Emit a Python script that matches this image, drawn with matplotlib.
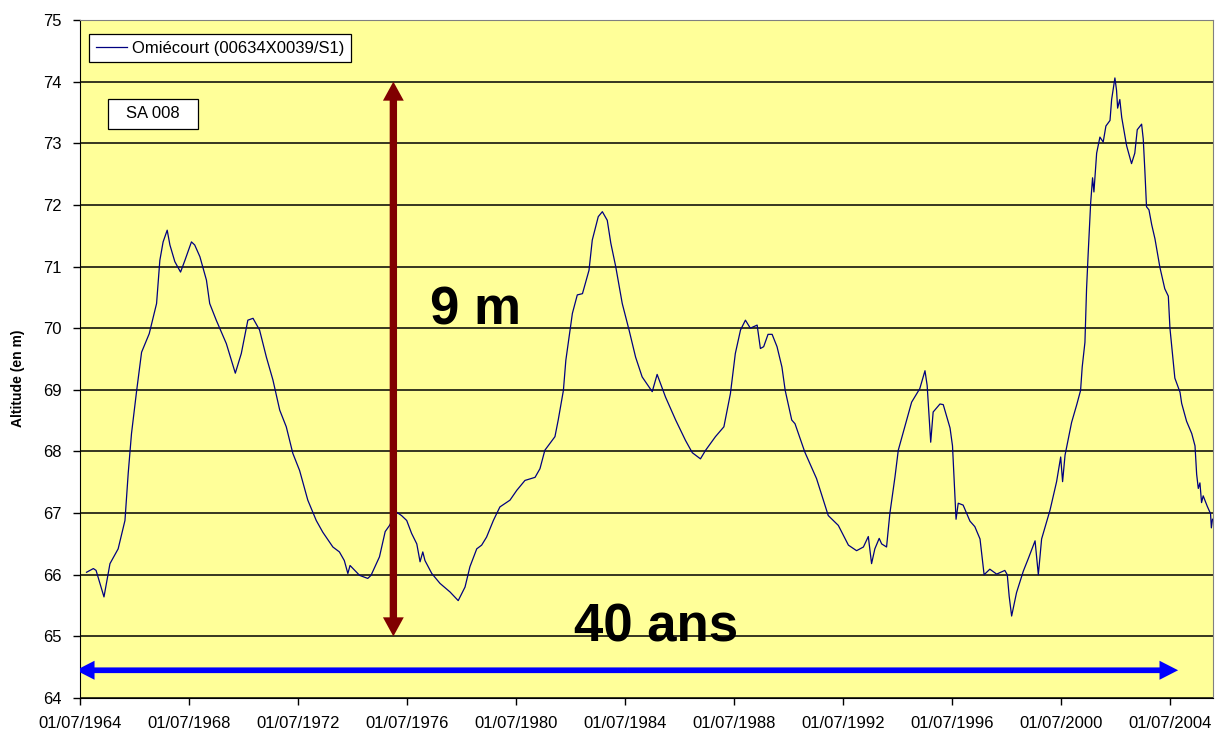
import matplotlib.pyplot as plt
from matplotlib.patches import FancyArrowPatch, Rectangle, ArrowStyle

plt.rcParams['font.family'] = ['Liberation Sans', 'DejaVu Sans']

# Piézomètre d'Omiécourt : dates en années décimales (01/07/1964 = 1964.5), niveau en m
annees = [
    1964.74, 1964.99, 1965.09, 1965.38, 1965.60, 1965.90, 1966.15, 1966.27, 1966.39, 1966.58,
    1966.76, 1967.04, 1967.31, 1967.43, 1967.55, 1967.70, 1967.80, 1967.98, 1968.19, 1968.35,
    1968.59, 1968.71, 1968.90, 1969.14, 1969.26, 1969.50, 1969.87, 1970.20, 1970.42, 1970.66,
    1970.85, 1971.09, 1971.34, 1971.58, 1971.83, 1972.07, 1972.31, 1972.56, 1972.86, 1973.17,
    1973.41, 1973.78, 1974.02, 1974.20, 1974.33, 1974.41, 1974.76, 1975.06, 1975.18, 1975.49,
    1975.70, 1975.86, 1976.10, 1976.30, 1976.49, 1976.67, 1976.86, 1976.98, 1977.08, 1977.16,
    1977.41, 1977.71, 1978.08, 1978.38, 1978.63, 1978.81, 1979.06, 1979.24, 1979.42, 1979.67,
    1979.91, 1980.28, 1980.53, 1980.83, 1981.20, 1981.38, 1981.56, 1981.93, 1982.05, 1982.24,
    1982.33, 1982.57, 1982.75, 1982.94, 1983.18, 1983.30, 1983.52, 1983.67, 1983.85, 1983.98,
    1984.16, 1984.40, 1984.65, 1984.89, 1985.13, 1985.50, 1985.68, 1985.99, 1986.36, 1986.72,
    1986.97, 1987.27, 1987.46, 1987.82, 1988.13, 1988.37, 1988.55, 1988.74, 1988.92, 1989.10,
    1989.35, 1989.47, 1989.59, 1989.75, 1989.90, 1990.08, 1990.26, 1990.38, 1990.62, 1990.74,
    1991.10, 1991.53, 1991.96, 1992.33, 1992.70, 1993.00, 1993.25, 1993.43, 1993.55, 1993.67,
    1993.83, 1993.92, 1994.10, 1994.22, 1994.41, 1994.53, 1994.77, 1995.02, 1995.32, 1995.51,
    1995.59, 1995.72, 1995.81, 1996.06, 1996.18, 1996.43, 1996.52, 1996.65, 1996.73, 1996.91,
    1997.16, 1997.34, 1997.53, 1997.68, 1997.89, 1998.14, 1998.44, 1998.53, 1998.60, 1998.69,
    1998.87, 1999.12, 1999.30, 1999.55, 1999.67, 1999.79, 2000.10, 2000.34, 2000.49, 2000.56,
    2000.65, 2000.89, 2001.08, 2001.22, 2001.28, 2001.38, 2001.44, 2001.50, 2001.59, 2001.66,
    2001.71, 2001.81, 2001.93, 2002.05, 2002.15, 2002.30, 2002.36, 2002.48, 2002.54, 2002.58,
    2002.66, 2002.73, 2002.91, 2003.09, 2003.21, 2003.30, 2003.46, 2003.52, 2003.58, 2003.64,
    2003.73, 2003.83, 2003.95, 2004.13, 2004.31, 2004.44, 2004.50, 2004.60, 2004.68, 2004.87,
    2004.93, 2005.11, 2005.30, 2005.42, 2005.48, 2005.54, 2005.60, 2005.66, 2005.72, 2005.87,
    2005.99, 2006.02, 2006.06,
]
niveaux = [
    66.04, 66.10, 66.07, 65.64, 66.18, 66.42, 66.88, 67.65, 68.29, 68.99,
    69.61, 69.91, 70.40, 71.10, 71.40, 71.59, 71.35, 71.08, 70.91, 71.10,
    71.40, 71.35, 71.16, 70.78, 70.40, 70.13, 69.75, 69.27, 69.59, 70.13,
    70.16, 69.97, 69.53, 69.16, 68.67, 68.40, 67.97, 67.69, 67.21, 66.88,
    66.69, 66.45, 66.37, 66.23, 66.02, 66.15, 65.99, 65.94, 65.99, 66.29,
    66.70, 66.80, 67.02, 66.96, 66.88, 66.67, 66.50, 66.21, 66.37, 66.23,
    66.02, 65.86, 65.72, 65.58, 65.80, 66.13, 66.42, 66.48, 66.61, 66.88,
    67.10, 67.21, 67.37, 67.53, 67.58, 67.72, 68.02, 68.24, 68.51, 68.99,
    69.48, 70.24, 70.54, 70.56, 70.94, 71.43, 71.81, 71.89, 71.75, 71.38,
    71.00, 70.40, 69.97, 69.53, 69.21, 68.97, 69.25, 68.88, 68.51, 68.18,
    67.98, 67.88, 68.02, 68.24, 68.40, 68.94, 69.59, 69.97, 70.13, 70.00,
    70.05, 69.67, 69.70, 69.90, 69.90, 69.70, 69.37, 68.99, 68.51, 68.45,
    67.99, 67.56, 66.96, 66.80, 66.48, 66.39, 66.45, 66.62, 66.18, 66.42,
    66.59, 66.50, 66.45, 66.99, 67.59, 68.02, 68.40, 68.80, 69.02, 69.31,
    69.07, 68.15, 68.64, 68.77, 68.76, 68.38, 68.09, 66.90, 67.16, 67.13,
    66.87, 66.78, 66.58, 66.00, 66.09, 66.01, 66.07, 66.00, 65.65, 65.33,
    65.71, 66.06, 66.26, 66.55, 66.00, 66.58, 67.05, 67.51, 67.91, 67.51,
    67.94, 68.47, 68.76, 68.99, 69.37, 69.77, 70.64, 71.22, 72.03, 72.44,
    72.21, 72.84, 73.10, 73.02, 73.28, 73.37, 73.71, 74.06, 73.86, 73.57,
    73.71, 73.42, 72.96, 72.67, 72.84, 73.22, 73.31, 73.07, 72.55, 71.97,
    71.92, 71.68, 71.45, 70.99, 70.64, 70.52, 70.00, 69.54, 69.19, 68.96,
    68.78, 68.49, 68.29, 68.09, 67.63, 67.40, 67.49, 67.17, 67.28, 67.11,
    66.99, 66.76, 66.90,
]

graduations_x = [1964.5 + 4 * i for i in range(11)]
etiquettes_x = ['01/07/%d' % int(a) for a in graduations_x]
graduations_y = list(range(64, 76))

# flèches d'annotation : amplitude (9 m) et durée (40 ans)
amplitude_x, amplitude_haut, amplitude_bas = 1976.0, 74.0, 65.0
duree_y, duree_debut, duree_fin = 64.45, 1964.35, 2004.8


def fleche_double(ax, p0, p1, couleur, tete_l, tete_w, queue_w):
    milieu = ((p0[0] + p1[0]) / 2, (p0[1] + p1[1]) / 2)
    style = ArrowStyle.Simple(head_length=tete_l, head_width=tete_w, tail_width=queue_w)
    for bout in (p0, p1):
        ax.add_patch(FancyArrowPatch(milieu, bout, arrowstyle=style, mutation_scale=10,
                                     shrinkA=0, shrinkB=0, color=couleur, lw=0, zorder=4))


fig = plt.figure(figsize=(12.17, 7.33), dpi=100)
ax = fig.add_axes([80 / 1217, 35 / 733, 1133 / 1217, 678 / 733])
ax.set_facecolor('#FFFF99')

ax.plot(annees, niveaux, color='#000080', lw=0.9, label='Omiécourt (00634X0039/S1)', zorder=3)

ax.set_xlim(1964.5, 2006.08)
ax.set_ylim(64, 75)
ax.set_xticks(graduations_x)
ax.set_xticklabels(etiquettes_x)
ax.set_yticks(graduations_y)
ax.yaxis.grid(True, color='black', lw=1.1)
ax.set_axisbelow(True)
ax.tick_params(direction='out', length=5, width=1, labelsize=12, pad=8, colors='black')

for cote in ['top', 'right']:
    ax.spines[cote].set_color('#808080')
for cote in ['left', 'bottom']:
    ax.spines[cote].set_color('black')

fig.text(18 / 1217, 1 - 378 / 733, 'Altitude (en m)', rotation=90, fontsize=10,
         fontweight='bold', ha='center', va='center')

leg = ax.legend(loc='upper left', bbox_to_anchor=(0.0079, 0.9794), borderaxespad=0,
                fontsize=12, fancybox=False, handlelength=1.9, handletextpad=0.3,
                borderpad=0.4, framealpha=1)
leg.get_frame().set_edgecolor('black')
leg.get_frame().set_linewidth(0.9)

# cartouche "SA 008"
ax.add_patch(Rectangle(((108 - 80) / 1133, (698 - 129) / 678), 90 / 1133, 30 / 678,
                       transform=ax.transAxes, facecolor='white', edgecolor='black',
                       lw=0.9, zorder=5))
ax.text((153 - 80) / 1133, (698 - 114) / 678, 'SA 008', transform=ax.transAxes,
        fontsize=12, ha='center', va='center', zorder=6)

fleche_double(ax, (amplitude_x, amplitude_bas), (amplitude_x, amplitude_haut),
              '#800000', 1.37, 1.5, 0.53)
fleche_double(ax, (duree_debut, duree_y), (duree_fin, duree_y),
              '#0000FF', 1.34, 1.37, 0.41)

ax.text(1977.34, 70.06, '9 m', fontsize=38, fontweight='bold', ha='left', va='baseline', zorder=6)
ax.text(1982.63, 64.92, '40 ans', fontsize=38, fontweight='bold', ha='left', va='baseline', zorder=6)

fig.savefig('out.png', dpi=100)
